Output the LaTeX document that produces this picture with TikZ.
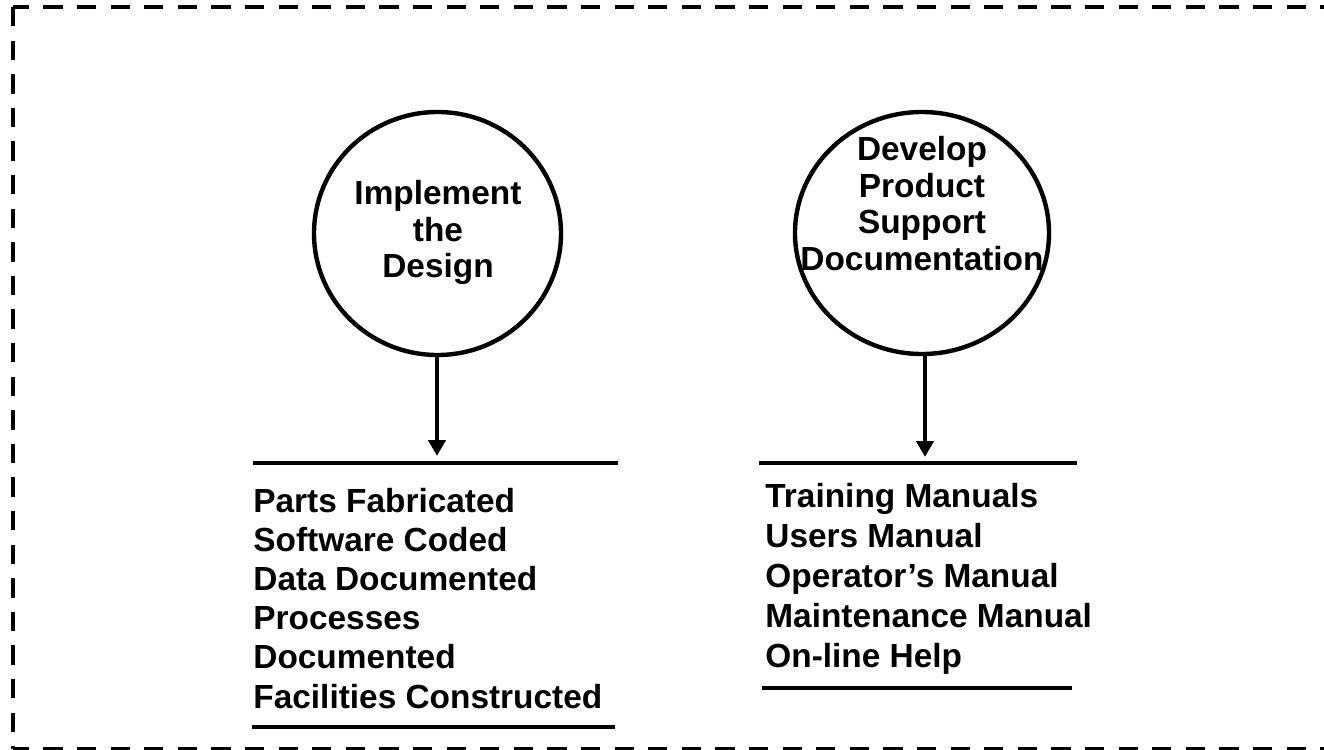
\documentclass[tikz,border=0pt]{standalone}
\usepackage{fontspec}
\setmainfont{Liberation Sans}
\usetikzlibrary{arrows.meta,shapes.geometric}
\begin{document}
\begin{tikzpicture}[x=0.5pt,y=-0.5pt,
  frame/.style={line width=2.3pt, dash pattern=on 9.65pt off 7.15pt},
  proc/.style={draw, ellipse, line width=2.2pt, inner sep=0pt},
  lbl/.style={font=\bfseries\fontsize{16.7}{18.25}\selectfont, align=center, inner sep=0pt, anchor=north},
  item/.style={font=\bfseries\fontsize{16.7}{19.6}\selectfont, inner sep=0pt, anchor=base west},
  bar/.style={line width=2.3pt},
  flow/.style={line width=2.3pt, -{Triangle[width=8.5pt,length=8pt]}}]
\useasboundingbox (0,0) rectangle (1324,750);
% dashed frame
\coordinate (tl) at (13,7);
\coordinate (tr) at (1345,7);
\coordinate (bl) at (13,749);
\coordinate (br) at (1345,749);
\draw[frame] (tl) -- (bl);
\draw[frame, dash phase=1.65pt] (tl) -- (tr);
\draw[frame, dash phase=1.65pt] (bl) -- (br);
% processes
\node[proc, minimum width=123.5pt, minimum height=121.5pt] (c1) at (437.5,233.5) {};
\node[proc, minimum width=127pt, minimum height=121pt] (c2) at (922,233) {};
\node[lbl] (c1t) at (438,180) {Implement\\the\\Design};
\node[lbl] (c2t) at (922,136) {Develop\\Product\\Support\\Documentation};
% bars
\coordinate (a1) at (253,463); \coordinate (b1) at (618,463);
\coordinate (a2) at (252,727); \coordinate (b2) at (615,727);
\coordinate (a3) at (759,463); \coordinate (b3) at (1077,463);
\coordinate (a4) at (762,688); \coordinate (b4) at (1072,688);
\draw[bar] (a1) -- (b1);
\draw[bar] (a2) -- (b2);
\draw[bar] (a3) -- (b3);
\draw[bar] (a4) -- (b4);
% arrows
\coordinate (t1) at (437,456);
\coordinate (t2) at (925,457);
\draw[flow] (c1.south -| t1) -- (t1);
\draw[flow] (c2.south -| t2) -- (t2);
% lists
\foreach \t [count=\i from 0] in {Parts Fabricated, Software Coded, Data Documented, Processes, Documented, Facilities Constructed}
  \node[item] (l\i) at (253,{512+39.2*\i}) {\t};
\foreach \t [count=\i from 0] in {Training Manuals, Users Manual, Operator’s Manual, Maintenance Manual, On-line Help}
  \node[item] (r\i) at (765,{507+40*\i}) {\t};
\end{tikzpicture}
\end{document}
